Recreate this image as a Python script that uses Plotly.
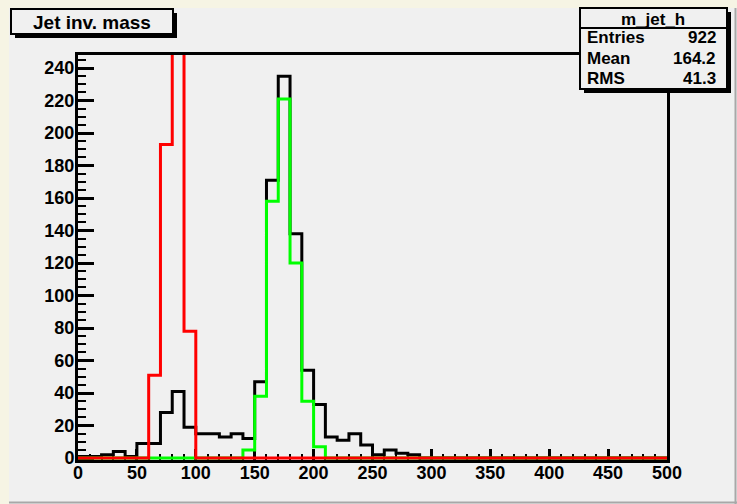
import plotly.graph_objects as go

# ---- data -------------------------------------------------------------
bin_edges = list(range(0, 510, 10))          # 50 bins of width 10 from 0 to 500
black_counts = [1, 1, 2, 4, 1, 9, 9, 28, 41, 19,
                15, 15, 13, 15, 12, 47, 171, 235, 138, 54,
                33, 13, 11, 15, 8, 2, 5, 3, 2, 0,
                0, 0, 0, 0, 0, 0, 0, 0, 0, 0,
                0, 0, 0, 0, 0, 0, 0, 0, 0, 0]
green_counts = [0] * 14 + [5, 38, 158, 221, 120, 35, 7] + [0] * 29
red_counts = [0] * 6 + [51, 193, 700, 78] + [0] * 40

x_ticks = [0, 50, 100, 150, 200, 250, 300, 350, 400, 450, 500]
y_ticks = [0, 20, 40, 60, 80, 100, 120, 140, 160, 180, 200, 220, 240]

title_text = "Jet inv. mass"
stats_name = "m_jet_h"
stats_rows = [("Entries", "922"), ("Mean", "164.2"), ("RMS", "41.3")]

# ---- layout geometry (pixels) ----------------------------------------
WIDTH, HEIGHT = 737, 504
L, R, T, B = 78, 667, 55, 460
PW, PH = R - L, B - T
BG = "#f0f0f0"
FONT = "Liberation Sans, Arial, sans-serif"


def px(x):
    return (x - L) / PW


def py(y):
    return (B - y) / PH


def step_xy(counts):
    xs = [bin_edges[0]] + bin_edges[:-1] + [bin_edges[-1], bin_edges[-1]]
    ys = [0] + counts + [counts[-1], 0]
    return xs, ys


fig = go.Figure()
for counts, color in [(black_counts, "black"), (green_counts, "#00ff00"), (red_counts, "#ff0000")]:
    xs, ys = step_xy(counts)
    fig.add_trace(go.Scatter(x=xs, y=ys, mode="lines", line=dict(color=color, width=3, shape="hv"),
                             hoverinfo="skip", showlegend=False))

shapes = []
# canvas decoration: patterned border left/top, grey lines right/bottom
shapes.append(dict(type="rect", xref="paper", yref="paper", x0=px(0), x1=px(9), y0=py(504), y1=py(0),
                   fillcolor="#f6f4e4", line=dict(width=0), layer="below"))
shapes.append(dict(type="rect", xref="paper", yref="paper", x0=px(0), x1=px(737), y0=py(8), y1=py(0),
                   fillcolor="#f6f4e4", line=dict(width=0), layer="below"))
shapes.append(dict(type="line", xref="paper", yref="paper", x0=px(9), x1=px(737), y0=py(502.5), y1=py(502.5),
                   line=dict(color="#a8a8a8", width=2), layer="below"))
shapes.append(dict(type="line", xref="paper", yref="paper", x0=px(735.5), x1=px(735.5), y0=py(8), y1=py(504),
                   line=dict(color="#a8a8a8", width=2), layer="below"))

# title box with shadow
shapes.append(dict(type="rect", xref="paper", yref="paper", x0=px(15), x1=px(177), y0=py(38), y1=py(13),
                   fillcolor="black", line=dict(width=0), layer="above"))
shapes.append(dict(type="rect", xref="paper", yref="paper", x0=px(11), x1=px(173), y0=py(34), y1=py(9),
                   fillcolor=BG, line=dict(color="black", width=2), layer="above"))

# stats box with shadow
shapes.append(dict(type="rect", xref="paper", yref="paper", x0=px(584), x1=px(731), y0=py(93), y1=py(12),
                   fillcolor="black", line=dict(width=0), layer="above"))
shapes.append(dict(type="rect", xref="paper", yref="paper", x0=px(580), x1=px(727), y0=py(89), y1=py(8),
                   fillcolor=BG, line=dict(color="black", width=2), layer="above"))
shapes.append(dict(type="line", xref="paper", yref="paper", x0=px(580), x1=px(727), y0=py(28), y1=py(28),
                   line=dict(color="black", width=2), layer="above"))

annotations = []
annotations.append(dict(xref="paper", yref="paper", x=px(92), y=py(22), text=title_text, showarrow=False,
                        xanchor="center", yanchor="middle",
                        font=dict(family=FONT, size=19, color="black", weight="bold")))
annotations.append(dict(xref="paper", yref="paper", x=px(653), y=py(19), text=stats_name, showarrow=False,
                        xanchor="center", yanchor="middle",
                        font=dict(family=FONT, size=17, color="black", weight="bold")))
row_y = [38, 58, 79]
for (lab, val), yy in zip(stats_rows, row_y):
    annotations.append(dict(xref="paper", yref="paper", x=px(585), y=py(yy), text=lab, showarrow=False,
                            xanchor="left", yanchor="middle",
                            font=dict(family=FONT, size=17, color="black", weight="bold")))
    annotations.append(dict(xref="paper", yref="paper", x=px(718), y=py(yy), text=val, showarrow=False,
                            xanchor="right", yanchor="middle",
                            font=dict(family=FONT, size=17, color="black", weight="bold")))

tickfont = dict(family=FONT, size=18, color="black", weight="bold")

fig.update_layout(
    width=WIDTH, height=HEIGHT,
    margin=dict(l=L, r=WIDTH - R, t=T, b=HEIGHT - B, pad=0),
    paper_bgcolor=BG, plot_bgcolor=BG,
    showlegend=False,
    shapes=shapes, annotations=annotations,
    xaxis=dict(range=[0, 500], tickvals=x_ticks, ticktext=[str(v) for v in x_ticks],
               ticks="inside", ticklen=11, tickwidth=3, tickcolor="black",
               minor=dict(dtick=10, tick0=0, ticks="inside", ticklen=6, tickwidth=2, tickcolor="black"),
               showline=True, linecolor="black", linewidth=3, mirror=True, layer="below traces",
               showgrid=False, zeroline=False, tickfont=tickfont, ticklabelstandoff=-6),
    yaxis=dict(range=[-1.2, 248], tickvals=y_ticks, ticktext=[str(v) for v in y_ticks],
               ticks="inside", ticklen=16, tickwidth=3, tickcolor="black",
               minor=dict(dtick=5, tick0=0, ticks="inside", ticklen=8, tickwidth=2, tickcolor="black"),
               showline=True, linecolor="black", linewidth=3, mirror=True, layer="below traces",
               showgrid=False, zeroline=False, tickfont=tickfont, ticklabelstandoff=-3),
)

fig.write_html("out.html")
